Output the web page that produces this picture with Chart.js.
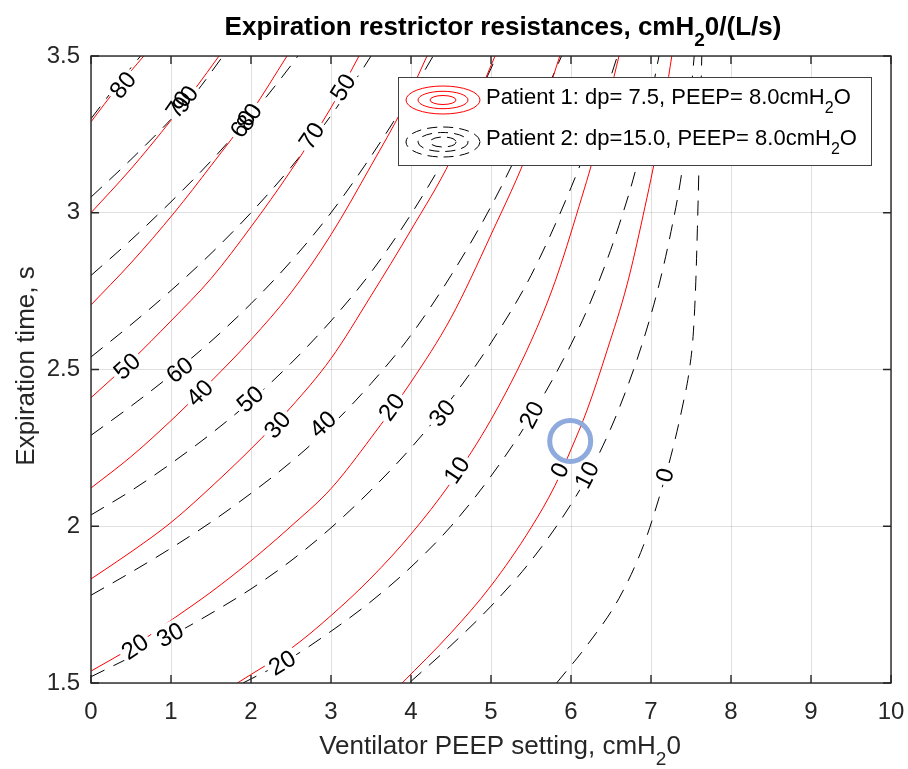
<!DOCTYPE html>
<html>
<head>
<meta charset="utf-8">
<script src="https://cdn.jsdelivr.net/npm/chart.js@4.4.1/dist/chart.umd.min.js"></script>
<style>
  html, body { margin: 0; padding: 0; background: #fff; }
  #wrap { width: 908px; height: 769px; position: relative; }
</style>
</head>
<body>
<div id="wrap"><canvas id="chart"></canvas></div>
<script>
// axis ticks
const xTicks = [0, 1, 2, 3, 4, 5, 6, 7, 8, 9, 10];
const yTicks = [1.5, 2, 2.5, 3, 3.5];

// patient 1 (red) contour lines, [PEEP, expiration time]
const p1Levels = [80, 70, 60, 50, 40, 30, 20, 10, 0];
const p1c80 = [[0, 3.29], [0.33, 3.40], [0.66, 3.5]];
const p1c70 = [[0, 3.0], [0.5, 3.14], [1.0, 3.295], [1.3, 3.395], [1.6, 3.5]];
const p1c60 = [[0, 2.706], [0.5, 2.84], [1.04, 3.0], [1.5, 3.15], [2.0, 3.32], [2.45, 3.5]];
const p1c50 = [[0, 2.41], [0.5, 2.527], [1.0, 2.655], [1.5, 2.79], [2.0, 2.955], [2.5, 3.135], [3.0, 3.335], [3.35, 3.5]];
const p1c40 = [[0, 2.122], [0.5, 2.222], [1.0, 2.337], [1.5, 2.462], [2.0, 2.595], [2.5, 2.745], [3.0, 2.93], [3.5, 3.15], [3.9, 3.335], [4.2, 3.5]];
const p1c30 = [[0, 1.832], [0.5, 1.918], [1.0, 2.012], [1.5, 2.125], [2.0, 2.247], [2.5, 2.38], [3.0, 2.535], [3.5, 2.735], [4.0, 2.945], [4.5, 3.17], [5.05, 3.5]];
const p1c20 = [[0, 1.538], [0.5, 1.612], [1.0, 1.7], [1.5, 1.79], [2.0, 1.89], [2.5, 2.0], [3.0, 2.12], [3.5, 2.282], [4.0, 2.46], [4.5, 2.665], [5.0, 2.93], [5.5, 3.22], [5.86, 3.5]];
const p1c10 = [[1.83, 1.5], [2.5, 1.61], [3.0, 1.715], [3.5, 1.835], [4.0, 1.975], [4.5, 2.14], [5.0, 2.34], [5.5, 2.59], [5.8, 2.78], [6.1, 3.02], [6.35, 3.24], [6.6, 3.5]];
const p1c0 = [[3.89, 1.5], [4.5, 1.66], [5.0, 1.81], [5.5, 1.995], [5.8, 2.13], [6.0, 2.245], [6.2, 2.37], [6.45, 2.56], [6.7, 2.77], [6.9, 2.99], [7.1, 3.24], [7.26, 3.5]];

// patient 2 (black dashed) contour lines
const p2Levels = [100, 90, 80, 70, 60, 50, 40, 30, 20, 10, 0];
const p2c100 = [[0, 3.30], [0.3, 3.40], [0.62, 3.5]];
const p2c90 = [[0, 3.05], [0.5, 3.17], [1.0, 3.298], [1.3, 3.38], [1.65, 3.5]];
const p2c80 = [[0, 2.8], [0.5, 2.913], [1.0, 3.035], [1.5, 3.165], [2.0, 3.31], [2.5, 3.47], [2.6, 3.505]];
const p2c70 = [[0, 2.54], [0.5, 2.643], [1.0, 2.752], [1.5, 2.87], [2.0, 3.0], [2.5, 3.145], [3.0, 3.31], [3.4, 3.46], [3.5, 3.5]];
const p2c60 = [[0, 2.29], [0.5, 2.383], [1.0, 2.482], [1.5, 2.59], [2.0, 2.71], [2.5, 2.845], [3.0, 3.0], [3.5, 3.18], [4.0, 3.38], [4.3, 3.51]];
const p2c50 = [[0, 2.036], [0.5, 2.113], [1.0, 2.2], [1.5, 2.295], [2.0, 2.4], [2.5, 2.52], [3.0, 2.655], [3.5, 2.81], [4.0, 2.995], [4.5, 3.21], [5.0, 3.46], [5.1, 3.52]];
const p2c40 = [[0, 1.78], [0.5, 1.853], [1.0, 1.93], [1.5, 2.013], [2.0, 2.105], [2.5, 2.205], [3.0, 2.32], [3.5, 2.455], [4.0, 2.61], [4.5, 2.8], [5.0, 3.02], [5.5, 3.28], [5.9, 3.51]];
const p2c30 = [[0, 1.52], [0.5, 1.583], [1.0, 1.65], [1.5, 1.722], [2.0, 1.8], [2.5, 1.89], [3.0, 1.995], [3.5, 2.115], [4.0, 2.25], [4.5, 2.405], [5.0, 2.585], [5.5, 2.8], [6.0, 3.08], [6.3, 3.28], [6.58, 3.5]];
const p2c20 = [[1.9, 1.5], [2.5, 1.58], [3.0, 1.665], [3.5, 1.76], [4.0, 1.87], [4.5, 2.0], [5.0, 2.16], [5.5, 2.35], [6.0, 2.58], [6.3, 2.75], [6.6, 2.96], [6.85, 3.18], [7.1, 3.5]];
const p2c10 = [[3.99, 1.503], [4.5, 1.62], [5.0, 1.745], [5.5, 1.89], [6.0, 2.07], [6.3, 2.205], [6.6, 2.375], [6.9, 2.59], [7.1, 2.77], [7.25, 2.94], [7.38, 3.12], [7.47, 3.3], [7.54, 3.5]];
const p2c0 = [[5.82, 1.5], [6.2, 1.62], [6.6, 1.77], [6.9, 1.935], [7.1, 2.09], [7.27, 2.245], [7.4, 2.39], [7.48, 2.5], [7.53, 2.62], [7.56, 2.78], [7.58, 2.95], [7.6, 3.15], [7.62, 3.35], [7.635, 3.5]];

// inline contour labels
const labelText = ['80', '70', '90', '60', '80', '70', '50', '50', '60', '40', '50', '30', '40', '20', '30', '20', '10', '0', '10', '0', '20', '30', '20'];
const labelX = [0.40, 1.10, 1.18, 1.90, 1.98, 2.76, 3.15, 0.45, 1.11, 1.36, 1.99, 2.33, 2.90, 3.76, 4.39, 5.51, 4.575, 5.86, 6.20, 7.175, 0.55, 0.99, 2.39];
const labelY = [3.407, 3.345, 3.362, 3.283, 3.305, 3.245, 3.40, 2.51, 2.498, 2.425, 2.405, 2.323, 2.325, 2.380, 2.361, 2.355, 2.179, 2.179, 2.163, 2.163, 1.615, 1.653, 1.564];
const labelAngle = [-51, -55, -55, -57, -57, -56, -58, -43, -38, -45, -41, -49, -42, -54, -51, -62, -56, -64, -63, -74, -34, -28, -31];

// highlighted operating point
const markerX = 5.99;
const markerY = 2.272;

const FONT = '"Liberation Sans", Arial, Helvetica, sans-serif';
const gridColor = 'rgba(38,38,38,0.15)';
const axisColor = '#262626';
const labelFont = '24px ' + FONT;

function toPoints(arr) {
    return arr.map(p => ({ x: p[0], y: p[1] }));
}

const p1Curves = [p1c80, p1c70, p1c60, p1c50, p1c40, p1c30, p1c20, p1c10, p1c0];
const p2Curves = [p2c100, p2c90, p2c80, p2c70, p2c60, p2c50, p2c40, p2c30, p2c20, p2c10, p2c0];

const datasets = [{
    type: 'scatter',
    label: 'marker',
    data: [{ x: markerX, y: markerY }],
    pointRadius: 20.5,
    pointHoverRadius: 20.5,
    pointBorderWidth: 5,
    pointHoverBorderWidth: 5,
    pointBorderColor: 'rgb(143,170,220)',
    pointBackgroundColor: 'rgba(0,0,0,0)'
}];
p1Curves.forEach((c, i) => datasets.push({
    label: 'Patient 1 ' + p1Levels[i],
    data: toPoints(c),
    borderColor: '#ff0000',
    borderWidth: 1,
    pointRadius: 0,
    fill: false,
    cubicInterpolationMode: 'monotone'
}));
p2Curves.forEach((c, i) => datasets.push({
    label: 'Patient 2 ' + p2Levels[i],
    data: toPoints(c),
    borderColor: '#000000',
    borderWidth: 1,
    borderDash: [15, 10],
    pointRadius: 0,
    fill: false,
    cubicInterpolationMode: 'monotone'
}));

function alignPx(v) {
    return Math.round(v - 0.5) + 0.5;
}

function labelBoxes(chart) {
    const ctx = chart.ctx;
    const xs = chart.scales.x, ys = chart.scales.y;
    ctx.font = labelFont;
    return labelText.map((t, i) => {
        const w = ctx.measureText(t).width + 6;
        const h = 25;
        const a = labelAngle[i] * Math.PI / 180;
        return {
            cx: xs.getPixelForValue(labelX[i]),
            cy: ys.getPixelForValue(labelY[i]),
            w: w, h: h, a: a, t: t
        };
    });
}

function drawGrid(ctx, chart) {
    const xs = chart.scales.x, ys = chart.scales.y, a = chart.chartArea;
    ctx.strokeStyle = gridColor;
    ctx.lineWidth = 1;
    ctx.beginPath();
    xTicks.forEach(v => {
        const x = alignPx(xs.getPixelForValue(v));
        ctx.moveTo(x, a.top);
        ctx.lineTo(x, a.bottom);
    });
    yTicks.forEach(v => {
        const y = alignPx(ys.getPixelForValue(v));
        ctx.moveTo(a.left, y);
        ctx.lineTo(a.right, y);
    });
    ctx.stroke();
}

function richText(ctx, parts, x, y, size, bold, align) {
    const f = s => (bold ? 'bold ' : '') + s + 'px ' + FONT;
    const subSize = Math.round(size * 0.72);
    const drop = size * 0.42;
    const widths = parts.map((p, i) => {
        ctx.font = f(i % 2 ? subSize : size);
        return ctx.measureText(p).width;
    });
    const total = widths.reduce((s, v) => s + v, 0);
    let cx = align === 'center' ? x - total / 2 : x;
    ctx.textAlign = 'left';
    ctx.textBaseline = 'alphabetic';
    parts.forEach((p, i) => {
        ctx.font = f(i % 2 ? subSize : size);
        ctx.fillText(p, cx, y + (i % 2 ? drop : 0));
        cx += widths[i];
    });
}

const decor = {
    id: 'decor',
    beforeDatasetDraw(chart, args) {
        // break the contour lines under their labels
        if (args.index !== 0) return;
        const ctx = chart.ctx, a = chart.chartArea;
        ctx.save();
        ctx.beginPath();
        labelBoxes(chart).forEach(b => {
            const ux = Math.cos(b.a), uy = Math.sin(b.a);
            const vx = -uy, vy = ux;
            const hw = b.w / 2, hh = b.h / 2;
            ctx.moveTo(b.cx - ux * hw - vx * hh, b.cy - uy * hw - vy * hh);
            ctx.lineTo(b.cx + ux * hw - vx * hh, b.cy + uy * hw - vy * hh);
            ctx.lineTo(b.cx + ux * hw + vx * hh, b.cy + uy * hw + vy * hh);
            ctx.lineTo(b.cx - ux * hw + vx * hh, b.cy - uy * hw + vy * hh);
            ctx.closePath();
        });
        ctx.clip();
        ctx.fillStyle = '#ffffff';
        ctx.fillRect(a.left, a.top, a.right - a.left, a.bottom - a.top);
        drawGrid(ctx, chart);
        ctx.restore();
    },
    afterDraw(chart) {
        const ctx = chart.ctx, a = chart.chartArea;
        const xs = chart.scales.x, ys = chart.scales.y;
        ctx.save();

        // contour labels
        ctx.fillStyle = '#000';
        ctx.font = labelFont;
        ctx.textAlign = 'center';
        ctx.textBaseline = 'middle';
        labelBoxes(chart).forEach(b => {
            ctx.save();
            ctx.translate(b.cx, b.cy);
            ctx.rotate(b.a);
            ctx.fillText(b.t, 0, 1);
            ctx.restore();
        });

        // axes box with inward ticks
        ctx.strokeStyle = axisColor;
        ctx.lineWidth = 1.4;
        ctx.strokeRect(a.left, a.top, a.right - a.left, a.bottom - a.top);
        ctx.beginPath();
        xTicks.forEach(v => {
            const x = xs.getPixelForValue(v);
            ctx.moveTo(x, a.bottom); ctx.lineTo(x, a.bottom - 8);
            ctx.moveTo(x, a.top); ctx.lineTo(x, a.top + 8);
        });
        yTicks.forEach(v => {
            const y = ys.getPixelForValue(v);
            ctx.moveTo(a.left, y); ctx.lineTo(a.left + 8, y);
            ctx.moveTo(a.right, y); ctx.lineTo(a.right - 8, y);
        });
        ctx.stroke();

        // legend
        const lx = 398, ly = 77, lw = 473, lh = 88;
        ctx.fillStyle = '#fff';
        ctx.fillRect(lx, ly, lw, lh);
        ctx.strokeStyle = '#404040';
        ctx.lineWidth = 1;
        ctx.strokeRect(lx + 0.5, ly + 0.5, lw, lh);

        ctx.strokeStyle = '#ff0000';
        ctx.setLineDash([]);
        [[37, 14], [25, 8.7], [13, 4.5]].forEach(e => {
            ctx.beginPath();
            ctx.ellipse(443, 100, e[0], e[1], 0, 0, Math.PI * 2);
            ctx.stroke();
        });
        ctx.strokeStyle = '#000';
        ctx.setLineDash([10, 6]);
        [[37, 15], [25, 9.5], [13, 5]].forEach(e => {
            ctx.beginPath();
            ctx.ellipse(443, 142, e[0], e[1], 0, 0, Math.PI * 2);
            ctx.stroke();
        });
        ctx.setLineDash([]);

        ctx.fillStyle = '#000';
        richText(ctx, ['Patient 1: dp= 7.5, PEEP= 8.0cmH', '2', 'O'], 486, 104, 22, false, 'left');
        richText(ctx, ['Patient 2: dp=15.0, PEEP= 8.0cmH', '2', 'O'], 486, 145, 22, false, 'left');

        // title and axis titles
        richText(ctx, ['Expiration restrictor resistances, cmH', '2', '0/(L/s)'], 503, 35, 26, true, 'center');
        ctx.fillStyle = axisColor;
        richText(ctx, ['Ventilator PEEP setting, cmH', '2', '0'], 500, 754, 26, false, 'center');
        ctx.save();
        ctx.translate(34, 366);
        ctx.rotate(-Math.PI / 2);
        richText(ctx, ['Expiration time, s'], 0, 0, 26, false, 'center');
        ctx.restore();

        ctx.restore();
    }
};

new Chart(document.getElementById('chart'), {
    type: 'line',
    data: { datasets: datasets },
    options: {
        responsive: true,
        maintainAspectRatio: false,
        animation: false,
        events: [],
        layout: { autoPadding: false, padding: { top: 56, right: 17, left: 0, bottom: 0 } },
        plugins: {
            legend: { display: false },
            tooltip: { enabled: false },
            title: { display: false }
        },
        scales: {
            x: {
                type: 'linear',
                position: 'bottom',
                min: 0,
                max: 10,
                afterBuildTicks: s => { s.ticks = xTicks.map(v => ({ value: v })); },
                afterFit: s => { s.height = 86; s.paddingLeft = 0; s.paddingRight = 0; },
                grid: { color: gridColor, drawTicks: false },
                border: { display: false },
                ticks: {
                    color: axisColor,
                    font: { size: 24, family: FONT },
                    padding: 15,
                    maxRotation: 0,
                    autoSkip: false
                }
            },
            y: {
                type: 'linear',
                min: 1.5,
                max: 3.5,
                afterBuildTicks: s => { s.ticks = yTicks.map(v => ({ value: v })); },
                afterFit: s => { s.width = 91; s.paddingTop = 0; s.paddingBottom = 0; },
                grid: { color: gridColor, drawTicks: false },
                border: { display: false },
                ticks: {
                    color: axisColor,
                    font: { size: 24, family: FONT },
                    padding: 11,
                    autoSkip: false,
                    callback: v => String(v)
                }
            }
        }
    },
    plugins: [decor]
});
</script>
</body>
</html>
